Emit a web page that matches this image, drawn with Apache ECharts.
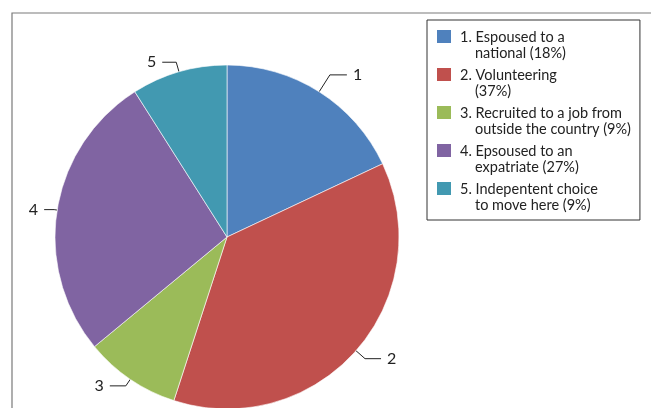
<!DOCTYPE html>
<html>
<head>
<meta charset="utf-8">
<script src="https://cdn.jsdelivr.net/npm/echarts@6/dist/echarts.min.js"></script>
<style>
  html, body { margin: 0; padding: 0; background: #fff; }
  #chart { width: 651px; height: 408px; }
</style>
</head>
<body>
<div id="chart"></div>
<script>
  const sliceNumbers = ['1', '2', '3', '4', '5'];
  const firstLines = ['Espoused to a', 'Volunteering', 'Recruited to a job from', 'Epsoused to an', 'Indepentent choice'];
  const secondLines = ['national', '', 'outside the country', 'expatriate', 'to move here'];
  const shares = [18, 37, 9, 27, 9];
  const colors = ['#4f81bd', '#c0504d', '#9bbb59', '#8064a2', '#4299b1'];
  // leader line segments (radial, horizontal) per slice
  const leaderLengths = [[20, 17], [12, 16], [8, 16], [3, 10], [10, 14]];

  const names = sliceNumbers.map((n, i) => n + '. ' + firstLines[i]);

  const chart = echarts.init(document.getElementById('chart'));

  const option = {
    animation: false,
    color: colors,
    textStyle: { fontFamily: 'Lato' },
    graphic: [
      {
        type: 'rect',
        shape: { x: 12, y: 13, width: 700, height: 500 },
        style: { fill: 'none', stroke: '#7a7a7a', lineWidth: 1.2 },
        silent: true,
      },
    ],
    legend: {
      orient: 'vertical',
      left: 427,
      top: 20,
      padding: [8, 9, 5, 8],
      borderColor: '#333',
      borderWidth: 1,
      itemWidth: 19,
      itemHeight: 33,
      itemGap: 3,
      icon: 'path://M0,0H16V15H0Z M19,33L19,33',
      selectedMode: false,
      data: names,
      formatter: (name) => {
        const i = names.indexOf(name);
        const second = (secondLines[i] ? secondLines[i] + ' ' : '') + '(' + shares[i] + '%)';
        return '{a|' + name + '}\n{b|' + second + '}';
      },
      textStyle: {
        color: '#222',
        fontFamily: 'Lato',
        fontSize: 14.5,
        rich: {
          a: { fontSize: 14.5, lineHeight: 16.5, color: '#222', fontFamily: 'Lato' },
          b: { fontSize: 14.5, lineHeight: 16.5, color: '#222', fontFamily: 'Lato', padding: [0, 0, 0, 15] },
        },
      },
    },
    series: [
      {
        type: 'pie',
        center: [227, 237],
        radius: 172,
        startAngle: 90,
        clockwise: true,
        avoidLabelOverlap: false,
        itemStyle: { borderColor: '#fff', borderWidth: 0.6 },
        emphasis: { disabled: true },
        label: {
          show: true,
          position: 'outside',
          formatter: (p) => sliceNumbers[p.dataIndex],
          fontSize: 16,
          fontFamily: 'Lato',
          color: '#222',
          distanceToLabelLine: 6,
        },
        labelLine: {
          show: true,
          length: 12,
          length2: 15,
          lineStyle: { color: '#222', width: 1 },
        },
        data: names.map((name, i) => ({
          name: name,
          value: shares[i],
          labelLine: { length: leaderLengths[i][0], length2: leaderLengths[i][1] },
        })),
      },
    ],
  };

  chart.setOption(option);
</script>
</body>
</html>
